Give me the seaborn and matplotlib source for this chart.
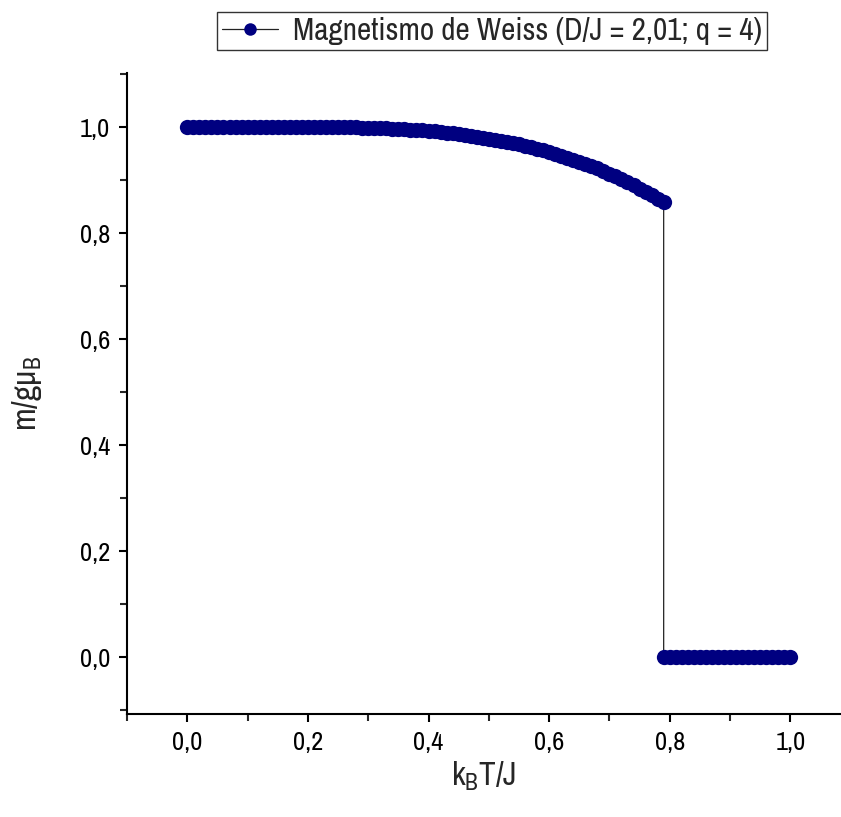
import matplotlib
matplotlib.use("Agg")
import matplotlib.pyplot as plt
from matplotlib.ticker import MultipleLocator, FixedLocator, FixedFormatter
import seaborn as sns
import pandas as pd

# ---- data ----
t_ordered = [0.00, 0.01, 0.02, 0.03, 0.04, 0.05, 0.06, 0.07, 0.08, 0.09,
             0.10, 0.11, 0.12, 0.13, 0.14, 0.15, 0.16, 0.17, 0.18, 0.19,
             0.20, 0.21, 0.22, 0.23, 0.24, 0.25, 0.26, 0.27, 0.28, 0.29,
             0.30, 0.31, 0.32, 0.33, 0.34, 0.35, 0.36, 0.37, 0.38, 0.39,
             0.40, 0.41, 0.42, 0.43, 0.44, 0.45, 0.46, 0.47, 0.48, 0.49,
             0.50, 0.51, 0.52, 0.53, 0.54, 0.55, 0.56, 0.57, 0.58, 0.59,
             0.60, 0.61, 0.62, 0.63, 0.64, 0.65, 0.66, 0.67, 0.68, 0.69,
             0.70, 0.71, 0.72, 0.73, 0.74, 0.75, 0.76, 0.77, 0.78, 0.79]
m_ordered = [1.0000, 1.0000, 1.0000, 1.0000, 1.0000, 1.0000, 1.0000, 1.0000, 1.0000, 1.0000,
             1.0000, 1.0000, 1.0000, 1.0000, 1.0000, 1.0000, 1.0000, 1.0000, 1.0000, 1.0000,
             1.0000, 0.9999, 0.9999, 0.9998, 0.9997, 0.9996, 0.9995, 0.9993, 0.9991, 0.9989,
             0.9987, 0.9984, 0.9980, 0.9976, 0.9971, 0.9967, 0.9959, 0.9952, 0.9944, 0.9935,
             0.9926, 0.9916, 0.9905, 0.9893, 0.9880, 0.9867, 0.9852, 0.9836, 0.9819, 0.9801,
             0.9782, 0.9762, 0.9741, 0.9718, 0.9695, 0.9672, 0.9645, 0.9617, 0.9589, 0.9558,
             0.9527, 0.9494, 0.9459, 0.9422, 0.9384, 0.9345, 0.9304, 0.9261, 0.9217, 0.9171,
             0.9122, 0.9072, 0.9020, 0.8965, 0.8910, 0.8833, 0.8780, 0.8718, 0.8650, 0.8576]
t_disordered = [0.79, 0.80, 0.81, 0.82, 0.83, 0.84, 0.85, 0.86, 0.87, 0.88, 0.89,
                0.90, 0.91, 0.92, 0.93, 0.94, 0.95, 0.96, 0.97, 0.98, 0.99, 1.00]
m_disordered = [0.0] * len(t_disordered)

x_ticks = [0.0, 0.2, 0.4, 0.6, 0.8, 1.0]
x_tick_labels = ["0,0", "0,2", "0,4", "0,6", "0,8", "1,0"]
y_ticks = [0.0, 0.2, 0.4, 0.6, 0.8, 1.0]
y_tick_labels = ["0,0", "0,2", "0,4", "0,6", "0,8", "1,0"]
legend_label = "Magnetismo de Weiss (D/J = 2,01; q = 4)"

df = pd.DataFrame({
    "T": t_ordered + t_disordered,
    "m": m_ordered + m_disordered,
    "serie": [legend_label] * (len(t_ordered) + len(t_disordered)),
})

sns.set_style("ticks")
FAM = ["Liberation Sans Narrow", "Archivo Narrow", "Liberation Sans", "DejaVu Sans"]
plt.rcParams["font.family"] = FAM
plt.rcParams["mathtext.fontset"] = "custom"
plt.rcParams["mathtext.rm"] = "Archivo Narrow"
plt.rcParams["mathtext.it"] = "Archivo Narrow"

fig = plt.figure(figsize=(8.41, 8.17), dpi=100)
ax = fig.add_axes([127 / 841, 1 - 714 / 817, 1 - 127 / 841, (714 - 73) / 817])

navy = "#000080"
sns.lineplot(data=df, x="T", y="m", hue="serie", palette=["#222222"],
             estimator=None, sort=False, linewidth=0.9, marker="o",
             markersize=11, markerfacecolor=navy, markeredgecolor=navy,
             markeredgewidth=0, ax=ax, legend=True)

ax.set_xlim(-0.1, -0.1 + (841 - 127) / 603)
ax.set_ylim(-(714 - 657) / 530, 1 + (127 - 73) / 530)

ax.xaxis.set_major_locator(FixedLocator(x_ticks))
ax.xaxis.set_major_formatter(FixedFormatter(x_tick_labels))
ax.yaxis.set_major_locator(FixedLocator(y_ticks))
ax.yaxis.set_major_formatter(FixedFormatter(y_tick_labels))
ax.xaxis.set_minor_locator(MultipleLocator(0.1))
ax.yaxis.set_minor_locator(MultipleLocator(0.1))

for s in ["top", "right"]:
    ax.spines[s].set_visible(False)
for s in ["left", "bottom"]:
    ax.spines[s].set_linewidth(1.5)
    ax.spines[s].set_color("black")
ax.tick_params(which="major", direction="out", length=6, width=1.5,
               labelsize=19, colors="black", pad=6)
ax.tick_params(which="minor", direction="out", length=5, width=1.5)

ax.set_xlabel(r"k$_\mathregular{B}$T/J", fontsize=24, labelpad=4)
ax.set_ylabel(r"m/gμ$_\mathregular{B}$", fontsize=24, labelpad=26)

handles, labels = ax.get_legend_handles_labels()
leg = ax.legend(handles, labels, loc="center", bbox_to_anchor=(492 / 841, 1 - 31 / 817),
                bbox_transform=fig.transFigure, frameon=True, fancybox=False,
                fontsize=22.5, handlelength=1.8, handletextpad=0.5,
                borderpad=0.15, borderaxespad=0)
leg.get_frame().set_edgecolor("black")
leg.get_frame().set_linewidth(1.0)
for h in leg.legend_handles:
    h.set_markerfacecolor(navy)
    h.set_markeredgecolor(navy)
    h.set_markersize(9)

fig.savefig("out.png", dpi=100)
